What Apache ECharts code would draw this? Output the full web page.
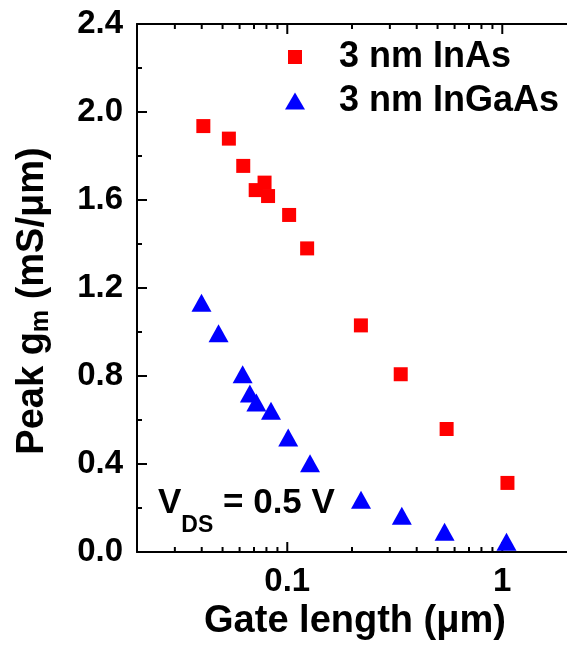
<!DOCTYPE html>
<html>
<head>
<meta charset="utf-8">
<script src="https://cdn.jsdelivr.net/npm/echarts@6/dist/echarts.min.js"></script>
<style>
html,body{margin:0;padding:0;background:#fff;}
#chart{width:567px;height:648px;}
</style>
</head>
<body>
<div id="chart"></div>
<script>
// ---- data ----
const inasGateLength   = [0.0407, 0.0535, 0.0624, 0.0713, 0.0784, 0.0814, 0.102, 0.1237, 0.220, 0.337, 0.551, 1.057];
const inasPeakGm       = [1.936, 1.879, 1.755, 1.645, 1.679, 1.618, 1.532, 1.380, 1.030, 0.808, 0.559, 0.314];
const ingaasGateLength = [0.0399, 0.0479, 0.0620, 0.0670, 0.0718, 0.0840, 0.101, 0.1276, 0.2203, 0.341, 0.539, 1.046];
const ingaasPeakGm     = [1.133, 0.994, 0.808, 0.721, 0.679, 0.642, 0.520, 0.403, 0.238, 0.165, 0.092, 0.047];
const seriesNames = ['3 nm InAs', '3 nm InGaAs'];
const xMajorTicks = [0.1, 1];
const xMinorTicks = [0.03, 0.04, 0.05, 0.06, 0.07, 0.08, 0.09, 0.2, 0.3, 0.4, 0.5, 0.6, 0.7, 0.8, 0.9];
const xRange = [0.02, 2];
const yRange = [0, 2.4];
const yStep = 0.4;

const FONT = '"Liberation Sans", Arial, Helvetica, sans-serif';
const chart = echarts.init(document.getElementById('chart'), null, {renderer: 'canvas'});

const tickData = xMinorTicks.map(v => [v, yRange[0], 0]).concat(xMajorTicks.map(v => [v, yRange[0], 1]));

const option = {
  backgroundColor: '#fff',
  animation: false,
  grid: {left: 137, top: 24, width: 439, height: 528, containLabel: false},
  xAxis: [{
    type: 'log', logBase: 10, min: xRange[0], max: xRange[1], position: 'bottom',
    name: 'Gate length (\u03bcm)', nameLocation: 'middle', nameGap: 50,
    nameTextStyle: {fontFamily: FONT, fontWeight: 'bold', fontSize: 38, color: '#000', padding: [0, 0, 0, 6]},
    axisLine: {show: true, lineStyle: {color: '#000', width: 2}},
    axisTick: {show: false},
    minorTick: {show: false},
    splitLine: {show: false}, minorSplitLine: {show: false},
    axisLabel: {show: true, showMinLabel: false, showMaxLabel: false, margin: 13,
      fontFamily: FONT, fontWeight: 'bold', fontSize: 33, color: '#000',
      formatter: v => String(+Number(v).toPrecision(3))}
  }, {
    type: 'log', logBase: 10, min: xRange[0], max: xRange[1], position: 'top',
    axisLine: {show: true, lineStyle: {color: '#000', width: 2}},
    axisTick: {show: false}, axisLabel: {show: false}, splitLine: {show: false}
  }],
  yAxis: [{
    type: 'value', min: yRange[0], max: yRange[1], interval: yStep, position: 'left',
    name: 'Peak g{sub|m} (mS/\u03bcm)', nameLocation: 'middle', nameGap: 83, nameRotate: 90,
    nameTextStyle: {fontFamily: FONT, fontWeight: 'bold', fontSize: 38, color: '#000', padding: [0, 26, 0, 0],
      rich: {sub: {fontFamily: FONT, fontWeight: 'bold', fontSize: 25, color: '#000', padding: [18, 0, 0, 0]}}},
    axisLine: {show: true, lineStyle: {color: '#000', width: 2}},
    axisTick: {show: true, inside: true, length: 10, lineStyle: {color: '#000', width: 2}},
    minorTick: {show: true, splitNumber: 2, length: 5, lineStyle: {color: '#000', width: 2}},
    splitLine: {show: false},
    axisLabel: {margin: 14, fontFamily: FONT, fontWeight: 'bold', fontSize: 33, color: '#000',
      formatter: v => Number(v).toFixed(1)}
  }],
  legend: [{
    data: [seriesNames[0]], left: 288, top: 39, padding: 0, orient: 'vertical',
    icon: 'rect', itemWidth: 14, itemHeight: 14,
    textStyle: {fontFamily: FONT, fontWeight: 'bold', fontSize: 36, color: '#000', padding: [0, 0, 0, 32]}
  }, {
    data: [seriesNames[1]], left: 285, top: 83, padding: 0, orient: 'vertical',
    icon: 'triangle', itemWidth: 20, itemHeight: 17,
    textStyle: {fontFamily: FONT, fontWeight: 'bold', fontSize: 36, color: '#000', padding: [0, 0, 0, 29]}
  }],
  graphic: [{
    type: 'text', left: 158, top: 470, silent: true,
    style: {
      text: '{v|V}{s|DS}{v| = 0.5 V}',
      rich: {
        v: {fontFamily: FONT, fontWeight: 'bold', fontSize: 35, lineHeight: 35, fill: '#000'},
        s: {fontFamily: FONT, fontWeight: 'bold', fontSize: 23, lineHeight: 23, padding: [44, 0, 0, 0], fill: '#000'}
      }
    }
  }],
  series: [{
    name: seriesNames[0], type: 'scatter', symbol: 'rect', symbolSize: 14,
    itemStyle: {color: '#ff0000', opacity: 1},
    data: inasGateLength.map((x, i) => [x, inasPeakGm[i]])
  }, {
    name: seriesNames[1], type: 'scatter', symbol: 'triangle', symbolSize: [20, 18],
    itemStyle: {color: '#0000ff', opacity: 1},
    data: ingaasGateLength.map((x, i) => [x, ingaasPeakGm[i]])
  }, {
    name: 'xticks', type: 'custom', silent: true, clip: false,
    data: tickData,
    renderItem: function (params, api) {
      const v = api.value(0);
      const len = api.value(2) ? 10 : 5;
      const b = api.coord([v, yRange[0]]);
      const t = api.coord([v, yRange[1]]);
      return {type: 'group', children: [
        {type: 'line', shape: {x1: b[0], y1: b[1], x2: b[0], y2: b[1] - len}, style: {stroke: '#000', lineWidth: 2}},
        {type: 'line', shape: {x1: t[0], y1: t[1], x2: t[0], y2: t[1] + len}, style: {stroke: '#000', lineWidth: 2}}
      ]};
    }
  }]
};
chart.setOption(option);
</script>
</body>
</html>
